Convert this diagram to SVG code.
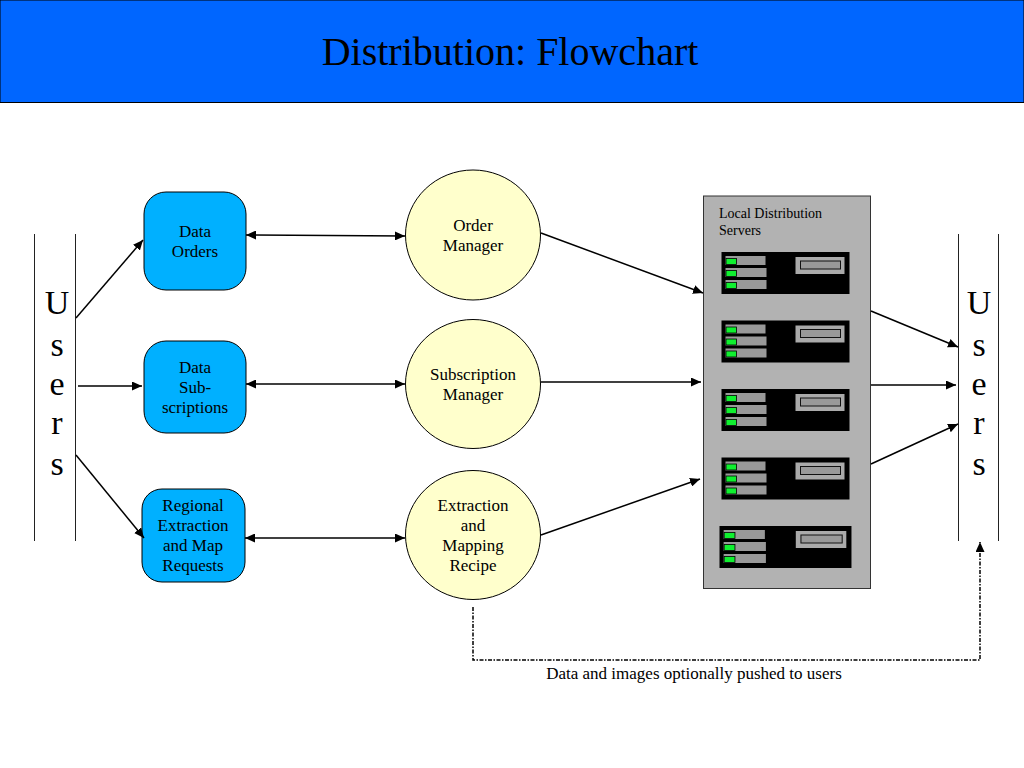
<svg xmlns="http://www.w3.org/2000/svg" xmlns:xlink="http://www.w3.org/1999/xlink" width="1024" height="768" viewBox="0 0 1024 768">
<style>
text{font-family:"Liberation Serif","Times New Roman",serif;fill:#000;text-anchor:middle}
.n{font-size:17px}
.u{font-size:34px}
.box{fill:#00b0ff;stroke:#000;stroke-width:1}
.circ{fill:#ffffcc;stroke:#000;stroke-width:1}
.c{stroke:#000;stroke-width:1.5;fill:none}
.bar{stroke:#222;stroke-width:1;fill:none}
.g{fill:#999}
.led{fill:#10f030;stroke:#000;stroke-width:.8}
</style>
<defs>
<marker id="a" markerUnits="userSpaceOnUse" markerWidth="11" markerHeight="9" refX="10" refY="4.500" orient="auto-start-reverse"><path d="M0 0L10 4.500L0 9z" fill="#000"/></marker>
<g id="srv">
<rect x="0" y="0" width="128" height="42" fill="#000"/>
<rect class="g" x="4" y="4" width="40" height="9"/>
<rect class="g" x="4" y="16" width="41" height="9"/>
<rect class="g" x="4" y="28" width="41" height="9"/>
<rect class="led" x="4.500" y="6.500" width="10.500" height="6"/>
<rect class="led" x="4.500" y="18.500" width="10.500" height="6"/>
<rect class="led" x="4.500" y="30.500" width="10.500" height="6"/>
<rect fill="#aaa" x="74" y="5" width="49" height="17"/>
<rect fill="#999" stroke="#111" stroke-width="1" x="79" y="9" width="40" height="8"/>
</g>
</defs>
<rect id="header" x="0" y="0" width="1024" height="102.500" fill="#0066ff" stroke="#000" stroke-width="1"/>
<text x="510" y="65" font-size="40px">Distribution: Flowchart</text>

<g id="users-left">
<path class="bar" d="M34.500 234V541M75.500 234V541"/>
<text class="u" x="57" y="314">U</text><text class="u" x="57" y="356">s</text><text class="u" x="57" y="395">e</text><text class="u" x="57" y="434">r</text><text class="u" x="57" y="475">s</text>
</g>
<g id="users-right">
<path class="bar" d="M958.500 234V541M998.500 234V541"/>
<text class="u" x="979" y="314">U</text><text class="u" x="979" y="356">s</text><text class="u" x="979" y="395">e</text><text class="u" x="979" y="434">r</text><text class="u" x="979" y="475">s</text>
</g>

<g id="data-orders"><rect class="box" x="144" y="192" width="102" height="98" rx="22"/><text class="n" x="195" y="237">Data</text><text class="n" x="195" y="257">Orders</text></g>
<g id="data-subscriptions"><rect class="box" x="144" y="341" width="102" height="92" rx="22"/><text class="n" x="195" y="373">Data</text><text class="n" x="195" y="393">Sub-</text><text class="n" x="195" y="413">scriptions</text></g>
<g id="regional"><rect class="box" x="142" y="489" width="103" height="93" rx="20"/><text class="n" x="193" y="511">Regional</text><text class="n" x="193" y="531">Extraction</text><text class="n" x="193" y="551">and Map</text><text class="n" x="193" y="571">Requests</text></g>

<g id="order-manager"><ellipse class="circ" cx="473" cy="235" rx="67.500" ry="65"/><text class="n" x="473" y="231">Order</text><text class="n" x="473" y="251">Manager</text></g>
<g id="subscription-manager"><ellipse class="circ" cx="473" cy="384" rx="67.500" ry="64.500"/><text class="n" x="473" y="380">Subscription</text><text class="n" x="473" y="400">Manager</text></g>
<g id="extraction"><ellipse class="circ" cx="473" cy="535" rx="67.500" ry="64.500"/><text class="n" x="473" y="511">Extraction</text><text class="n" x="473" y="531">and</text><text class="n" x="473" y="551">Mapping</text><text class="n" x="473" y="571">Recipe</text></g>

<g id="local-servers">
<rect x="703.500" y="196" width="167" height="392.500" fill="#b2b2b2" stroke="#333" stroke-width="1"/>
<text x="719" y="218" font-size="14px" style="text-anchor:start">Local Distribution</text>
<text x="719" y="235" font-size="14px" style="text-anchor:start">Servers</text>
<use xlink:href="#srv" href="#srv" x="721.500" y="252"/>
<use xlink:href="#srv" href="#srv" x="721.500" y="320.500"/>
<use xlink:href="#srv" href="#srv" x="721.500" y="389"/>
<use xlink:href="#srv" href="#srv" x="721.500" y="457.500"/>
<g transform="translate(719.500 526) scale(1.031 1)"><use xlink:href="#srv" href="#srv"/></g>
</g>

<g id="connectors">
<path class="c" marker-end="url(#a)" d="M76 318L143 240"/>
<path class="c" marker-end="url(#a)" d="M78 386H142"/>
<path class="c" marker-end="url(#a)" d="M76 455L144 538"/>
<path class="c" marker-start="url(#a)" marker-end="url(#a)" d="M246 235L405 236"/>
<path class="c" marker-start="url(#a)" marker-end="url(#a)" d="M246 384H405"/>
<path class="c" marker-start="url(#a)" marker-end="url(#a)" d="M245 538H405"/>
<path class="c" marker-end="url(#a)" d="M541 233L703 293"/>
<path class="c" marker-end="url(#a)" d="M541 382H701"/>
<path class="c" marker-end="url(#a)" d="M541 535L700 479"/>
<path class="c" marker-end="url(#a)" d="M871 311L958 347"/>
<path class="c" marker-end="url(#a)" d="M871 385L956 385"/>
<path class="c" marker-end="url(#a)" d="M871 464L958 424"/>
<path class="c" stroke-dasharray="4 1.500 1.500 1.500" marker-end="url(#a)" d="M473 607V660H980V542"/>
</g>
<text id="push-label" class="n" x="694" y="679">Data and images optionally pushed to users</text>
</svg>
